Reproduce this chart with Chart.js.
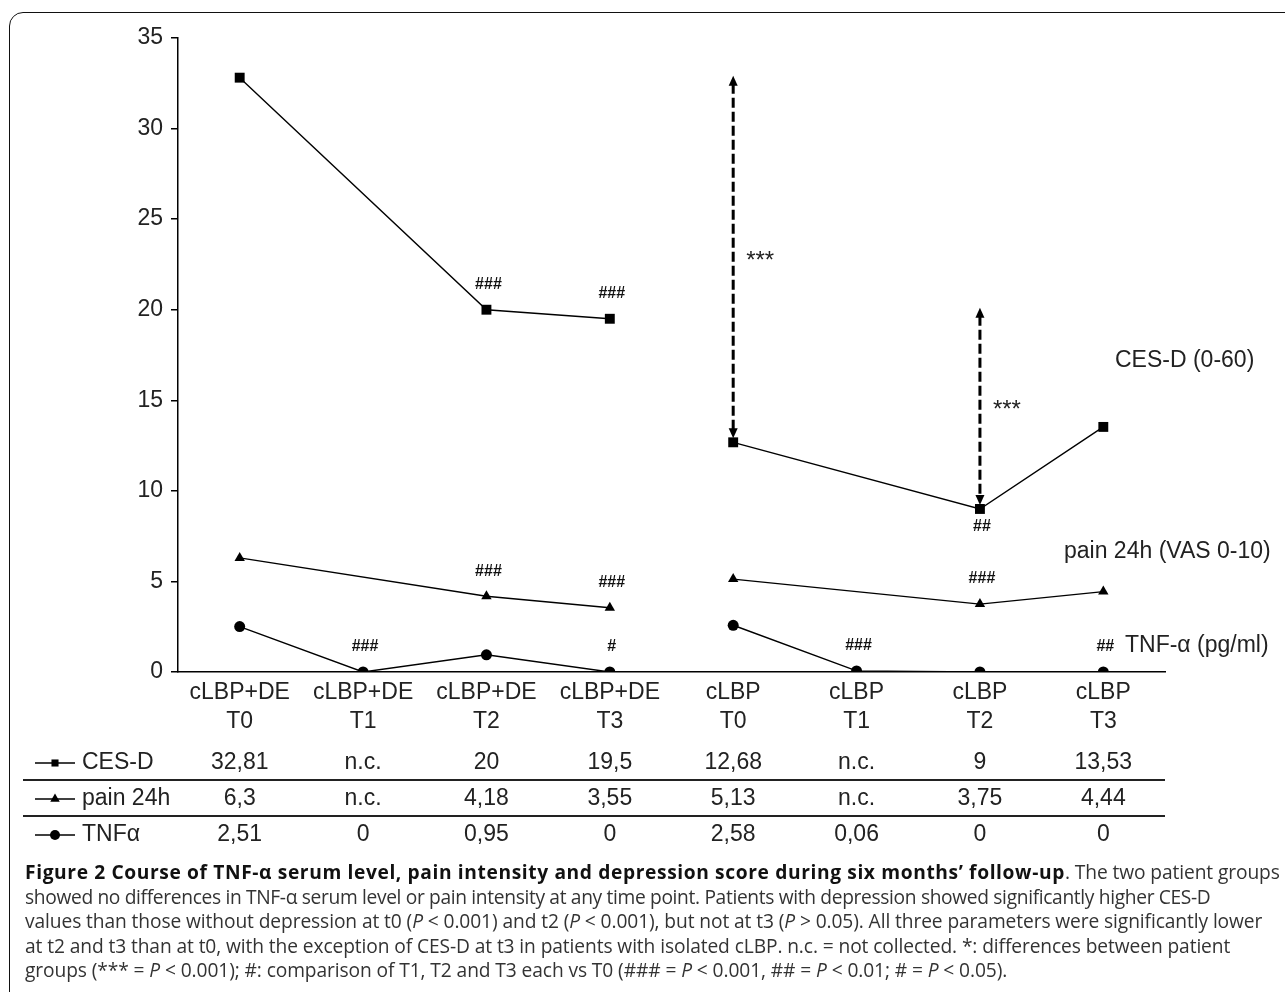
<!DOCTYPE html>
<html>
<head>
<meta charset="utf-8">
<script src="https://cdn.jsdelivr.net/npm/chart.js@4.4.1/dist/chart.umd.min.js"></script>
<style>
  html, body { margin: 0; padding: 0; background: #fff; overflow: hidden; width: 1285px; height: 992px; }
  #frame { position: absolute; left: 9px; top: 12px; width: 1300px; height: 1000px; border: 1.5px solid #111; border-radius: 14px; box-sizing: border-box; }
  #chart { position: absolute; left: 0; top: 0; }
  #caption { position: absolute; left: 25px; top: 860px; width: 1258px; font-family: "Open Sans", sans-serif; font-size: 19.2px; line-height: 24.5px; color: #333; white-space: nowrap; letter-spacing: -0.1px; }
  #caption b { color: #111; letter-spacing: 0.62px; }
  #caption .l2 { letter-spacing: -0.34px; }
</style>
</head>
<body>
<div id="frame"></div>
<canvas id="chart" width="1285" height="860"></canvas>
<div id="caption">
<b>Figure 2 Course of TNF-α serum level, pain intensity and depression score during six months’ follow-up</b>. The two patient groups<br>
<span class="l2">showed no differences in TNF-α serum level or pain intensity at any time point. Patients with depression showed significantly higher CES-D</span><br>
values than those without depression at t0 (<i>P</i> &lt; 0.001) and t2 (<i>P</i> &lt; 0.001), but not at t3 (<i>P</i> &gt; 0.05). All three parameters were significantly lower<br>
at t2 and t3 than at t0, with the exception of CES-D at t3 in patients with isolated cLBP. n.c. = not collected. *: differences between patient<br>
groups (*** = <i>P</i> &lt; 0.001); #: comparison of T1, T2 and T3 each vs T0 (### = <i>P</i> &lt; 0.001, ## = <i>P</i> &lt; 0.01; # = <i>P</i> &lt; 0.05).
</div>
<script>
// categories (group + time point)
const categories = [
  ['cLBP+DE', 'T0'], ['cLBP+DE', 'T1'], ['cLBP+DE', 'T2'], ['cLBP+DE', 'T3'],
  ['cLBP', 'T0'], ['cLBP', 'T1'], ['cLBP', 'T2'], ['cLBP', 'T3']
];

// CES-D (n.c. = null)
const cesdDE  = [32.81, null, 20, 19.5, null, null, null, null];
const cesdLBP = [null, null, null, null, 12.68, null, 9, 13.53];
// pain 24h
const painDE  = [6.3, null, 4.18, 3.55, null, null, null, null];
const painLBP = [null, null, null, null, 5.13, null, 3.75, 4.44];
// TNF-alpha
const tnfDE   = [2.51, 0, 0.95, 0, null, null, null, null];
const tnfLBP  = [null, null, null, null, 2.58, 0.06, 0, 0];

const yTicks = [0, 5, 10, 15, 20, 25, 30, 35];

// significance marks: text, series, category index, above/below
const hashMarks = [
  ['###', 'cesd', 2, 'above'], ['###', 'cesd', 3, 'above'], ['##', 'cesd', 6, 'below'],
  ['###', 'pain', 2, 'above'], ['###', 'pain', 3, 'above'], ['###', 'pain', 6, 'above'],
  ['###', 'tnf', 1, 'above'], ['#', 'tnf', 3, 'above'], ['###', 'tnf', 5, 'above'], ['##', 'tnf', 7, 'above']
];
// group comparisons (CES-D, cLBP+DE vs cLBP) at time point index
const groupDiffs = [['***', 0], ['***', 2]];

const seriesNames = { cesd: 'CES-D (0-60)', pain: 'pain 24h (VAS 0-10)', tnf: 'TNF-α (pg/ml)' };
const rowNames = ['CES-D', 'pain 24h', 'TNFα'];

const merged = (a, b) => a.map((v, i) => v !== null ? v : b[i]);
const seriesData = {
  cesd: merged(cesdDE, cesdLBP),
  pain: merged(painDE, painLBP),
  tnf: merged(tnfDE, tnfLBP)
};
const fmt = v => v === null ? 'n.c.' : String(v).replace('.', ',');

const TXT = '#222';
const FONT = '"Liberation Sans", Arial, sans-serif';

function line(label, data, style, radius) {
  return {
    label, data, spanGaps: true,
    borderColor: '#000', borderWidth: 1.4,
    pointStyle: style, pointRadius: radius,
    pointBackgroundColor: '#000', pointBorderColor: '#000', pointBorderWidth: 0
  };
}

const extras = {
  id: 'extras',
  afterDatasetsDraw(chart) {
    const ctx = chart.ctx;
    const x = chart.scales.x, y = chart.scales.y;
    ctx.save();

    // hash marks
    ctx.fillStyle = '#111';
    ctx.font = 'bold 16px ' + FONT;
    ctx.textAlign = 'center';
    ctx.textBaseline = 'middle';
    hashMarks.forEach(([t, s, i, pos]) => {
      const px = x.getPixelForValue(i);
      const py = y.getPixelForValue(seriesData[s][i]);
      ctx.fillText(t, px + 2, pos === 'above' ? py - 25 : py + 18);
    });

    // group difference arrows
    groupDiffs.forEach(([t, i]) => {
      const px = x.getPixelForValue(4 + i);
      const top = y.getPixelForValue(cesdDE[i]) - 2;
      const bot = y.getPixelForValue(cesdLBP[4 + i]) - 4;
      ctx.strokeStyle = '#000';
      ctx.lineWidth = 3;
      ctx.setLineDash([10, 4]);
      ctx.beginPath();
      ctx.moveTo(px, top + 8);
      ctx.lineTo(px, bot - 8);
      ctx.stroke();
      ctx.setLineDash([]);
      ctx.fillStyle = '#000';
      ctx.beginPath();
      ctx.moveTo(px, top); ctx.lineTo(px - 4.5, top + 10); ctx.lineTo(px + 4.5, top + 10); ctx.fill();
      ctx.beginPath();
      ctx.moveTo(px, bot); ctx.lineTo(px - 4.5, bot - 10); ctx.lineTo(px + 4.5, bot - 10); ctx.fill();
      ctx.fillStyle = TXT;
      ctx.font = '24px ' + FONT;
      ctx.fillText(t, px + 27, (top + bot) / 2 + 4.5);
    });

    // series names at the right
    ctx.font = '23px ' + FONT;
    ctx.textAlign = 'left';
    ctx.fillText(seriesNames.cesd, 1115, 361);
    ctx.fillText(seriesNames.pain, 1064, 552);
    ctx.fillText(seriesNames.tnf, 1125, 646);

    // data table
    const rows = [seriesData.cesd, seriesData.pain, seriesData.tnf];
    const styles = ['rect', 'triangle', 'circle'];
    const rowY = [763, 799, 835];
    rows.forEach((vals, r) => {
      const ry = rowY[r];
      ctx.strokeStyle = '#000';
      ctx.lineWidth = 1.5;
      ctx.beginPath();
      ctx.moveTo(35, ry); ctx.lineTo(75, ry); ctx.stroke();
      ctx.fillStyle = '#000';
      Chart.helpers.drawPoint(ctx, { pointStyle: styles[r], radius: r === 1 ? 5.5 : 5, rotation: 0, borderWidth: 0 }, 55, ry);
      ctx.fillStyle = TXT;
      ctx.textAlign = 'left';
      ctx.fillText(rowNames[r], 82, ry);
      ctx.textAlign = 'center';
      vals.forEach((v, i) => ctx.fillText(fmt(v), x.getPixelForValue(i), ry));
    });
    ctx.strokeStyle = '#222';
    ctx.lineWidth = 2;
    [780, 816].forEach(ly => {
      ctx.beginPath(); ctx.moveTo(23, ly); ctx.lineTo(x.right, ly); ctx.stroke();
    });
    ctx.restore();
  }
};

new Chart(document.getElementById('chart'), {
  type: 'line',
  data: {
    labels: categories,
    datasets: [
      line('CES-D cLBP+DE', cesdDE, 'rect', 7),
      line('CES-D cLBP', cesdLBP, 'rect', 7),
      line('pain cLBP+DE', painDE, 'triangle', 6),
      line('pain cLBP', painLBP, 'triangle', 6),
      line('TNF cLBP+DE', tnfDE, 'circle', 5.5),
      line('TNF cLBP', tnfLBP, 'circle', 5.5)
    ]
  },
  options: {
    responsive: false,
    animation: false,
    layout: { padding: { left: 118, right: 120, top: 38, bottom: 118 } },
    plugins: { legend: { display: false }, tooltip: { enabled: false } },
    scales: {
      x: {
        offset: true,
        grid: { display: false },
        border: { display: true, color: '#000', width: 1.5 },
        ticks: { color: TXT, font: { family: FONT, size: 23, lineHeight: 1.26 }, padding: -2, maxRotation: 0, autoSkip: false },
        afterFit: s => { s.height = 70; }
      },
      y: {
        min: 0, max: 35,
        afterBuildTicks: s => { s.ticks = yTicks.map(v => ({ value: v })); },
        grid: { drawOnChartArea: false, tickLength: 7, color: '#000', lineWidth: 1.5 },
        border: { display: true, color: '#000', width: 1.5 },
        ticks: { color: TXT, font: { family: FONT, size: 23 }, padding: 8 },
        afterFit: s => { s.width = 60; }
      }
    }
  },
  plugins: [extras]
});
</script>
</body>
</html>
